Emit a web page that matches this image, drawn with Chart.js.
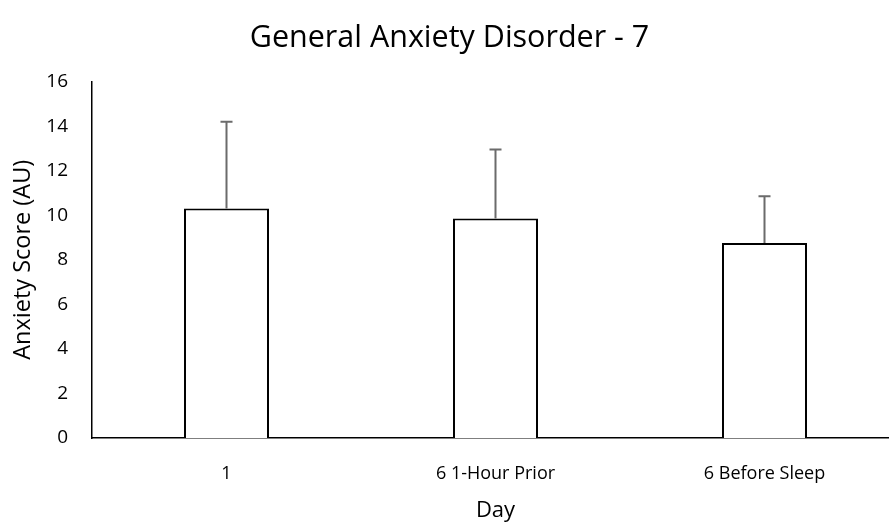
<!DOCTYPE html>
<html>
<head>
<meta charset="utf-8">
<script src="https://cdn.jsdelivr.net/npm/chart.js@4.4.0/dist/chart.umd.min.js"></script>
<style>
  html, body { margin: 0; padding: 0; background: #fff; overflow: hidden; }
</style>
</head>
<body>
<canvas id="myChart" width="900" height="527"></canvas>
<script>
const days = ['1', '6 1-Hour Prior', '6 Before Sleep']
const scores = [10.3, 9.85, 8.75]
const errors = [3.9, 3.1, 2.1]
const yTicks = [0, 2, 4, 6, 8, 10, 12, 14, 16]

const font = "'Open Sans', 'Liberation Sans', sans-serif"

// plain upward error bars, Excel style
const errorBars = {
    id: 'errorBars',
    afterDatasetsDraw(chart) {
        const ctx = chart.ctx
        const yScale = chart.scales.y
        const meta = chart.getDatasetMeta(0)
        ctx.save()
        ctx.strokeStyle = '#6b6b6b'
        ctx.lineWidth = 2
        meta.data.forEach((bar, i) => {
            const top = yScale.getPixelForValue(scores[i] + errors[i])
            ctx.beginPath()
            ctx.moveTo(bar.x, bar.y)
            ctx.lineTo(bar.x, top)
            ctx.moveTo(bar.x - 6, top)
            ctx.lineTo(bar.x + 6, top)
            ctx.stroke()
        })
        ctx.restore()
    }
}

const ctx = document.getElementById('myChart')
new Chart(ctx, {
    type: 'bar',
    data: {
        labels: days,
        datasets: [{
            label: 'GAD-7',
            data: scores,
            backgroundColor: '#ffffff',
            borderColor: '#000000',
            borderWidth: 2,
            barPercentage: 0.316,
            categoryPercentage: 1
        }]
    },
    options: {
        responsive: false,
        animation: false,
        layout: { padding: { left: 0, right: 1, top: 0, bottom: 0 } },
        plugins: {
            legend: { display: false },
            tooltip: { enabled: false },
            title: {
                display: true,
                text: 'General Anxiety Disorder - 7',
                color: '#000',
                font: { family: font, size: 30.5, weight: 'normal' },
                padding: { top: 20, bottom: 25 }
            }
        },
        scales: {
            x: {
                grid: { display: false, drawTicks: false },
                border: { color: '#000', width: 1.5 },
                ticks: { color: '#000', padding: 25, font: { family: font, size: 18 } },
                title: {
                    display: true,
                    text: 'Day',
                    color: '#000',
                    font: { family: font, size: 22 },
                    padding: { top: 8, bottom: 3 }
                },
                afterFit: s => { s.height = 89 }
            },
            y: {
                min: 0,
                max: 16,
                afterBuildTicks: s => { s.ticks = yTicks.map(v => ({ value: v })) },
                grid: { display: false, drawTicks: false },
                border: { color: '#000', width: 1.5 },
                ticks: { color: '#000', padding: 24, font: { family: font, size: 19 } },
                title: {
                    display: true,
                    text: 'Anxiety Score (AU)',
                    color: '#000',
                    font: { family: font, size: 23.5 },
                    padding: { top: 9, bottom: 4 }
                },
                afterFit: s => { s.width = 92 }
            }
        }
    },
    plugins: [errorBars]
})
</script>
</body>
</html>
